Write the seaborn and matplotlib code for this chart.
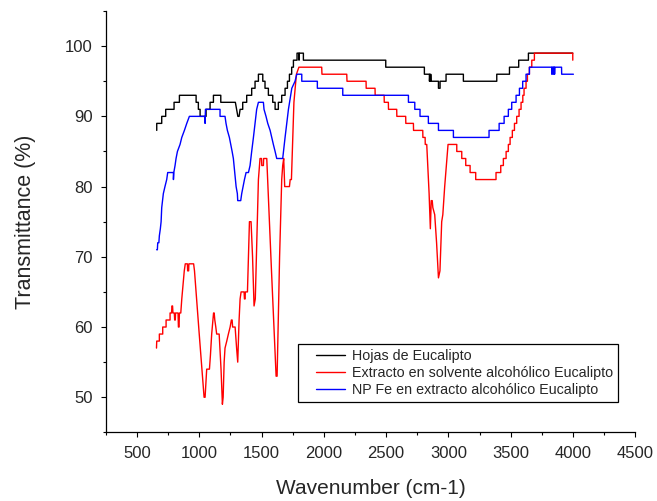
import pandas as pd
import numpy as np
import matplotlib
matplotlib.use("Agg")
import matplotlib.pyplot as plt
from matplotlib.ticker import MultipleLocator
from matplotlib.legend_handler import HandlerLine2D
import seaborn as sns

###############
# series data #
###############

# Hojas de Eucalipto (black)
hojas_wn = [659, 659, 699, 699, 731, 731, 798, 798, 841, 841, 975, 975, 993, 993,
            1007, 1007, 1055, 1055, 1087, 1087, 1114, 1114, 1173, 1173, 1290, 1300,
            1310, 1320, 1328, 1349, 1349, 1381, 1381, 1421, 1421, 1448, 1448, 1475,
            1475, 1510, 1510, 1528, 1528, 1555, 1555, 1590, 1590, 1609, 1609, 1635,
            1635, 1662, 1662, 1689, 1689, 1708, 1708, 1724, 1724, 1742, 1742, 1756,
            1756, 1785, 1785, 1800, 1801, 1803, 1836, 1836, 2497, 2497, 2807, 2807,
            2847, 2848, 2851, 2855, 2858, 2862, 2920, 2920, 2933, 2933, 2981, 2981,
            3120, 3120, 3388, 3388, 3490, 3490, 3564, 3564, 3642, 3642, 3998]
hojas_t = [88, 89, 89, 90, 90, 91, 91, 92, 92, 93, 93, 92, 92, 91,
           91, 90, 90, 91, 91, 92, 92, 93, 93, 92, 92, 91,
           90, 90, 91, 91, 92, 92, 93, 93, 94, 94, 95, 95,
           96, 96, 95, 95, 94, 94, 93, 93, 92, 92, 91, 91,
           92, 92, 93, 93, 94, 94, 95, 95, 96, 96, 97, 97,
           98, 98, 99, 99, 98, 99, 99, 98, 98, 97, 97, 96,
           96, 95, 96, 95, 96, 95, 95, 94, 94, 95, 95, 96,
           96, 95, 95, 96, 96, 97, 97, 98, 98, 99, 99]

# Extracto en solvente alcoholico (red)
extracto_wn = [657, 659, 680, 680, 707, 707, 734, 734, 766, 766, 778, 781, 786, 789,
               800, 803, 808, 810, 830, 833, 838, 841, 852, 860, 870, 880, 888, 905,
               907, 915, 917, 955, 962, 1000, 1039, 1047, 1060, 1082, 1090, 1100,
               1115, 1120, 1125, 1133, 1140, 1160, 1175, 1186, 1192, 1200, 1207, 1221,
               1234, 1248, 1258, 1264, 1268, 1288, 1300, 1309, 1320, 1328, 1336, 1360,
               1363, 1368, 1370, 1387, 1398, 1403, 1416, 1428, 1440, 1450, 1462, 1475,
               1488, 1500, 1502, 1515, 1517, 1542, 1580, 1617, 1625, 1645, 1662, 1670,
               1678, 1680, 1686, 1724, 1730, 1740, 1760, 1780, 1800, 1983, 1985, 2184,
               2186, 2339, 2340, 2411, 2412, 2484, 2485, 2518, 2519, 2585, 2586, 2657,
               2658, 2719, 2720, 2794, 2795, 2813, 2814, 2826, 2845, 2855, 2862, 2870,
               2875, 2890, 2905, 2920, 2932, 2946, 2955, 2970, 2997, 3067, 3067, 3107,
               3107, 3139, 3139, 3174, 3174, 3219, 3219, 3382, 3382, 3420, 3420, 3441,
               3441, 3463, 3463, 3481, 3481, 3495, 3495, 3513, 3513, 3530, 3530, 3548,
               3548, 3567, 3567, 3583, 3583, 3597, 3597, 3607, 3607, 3623, 3623, 3634,
               3634, 3650, 3650, 3669, 3669, 3690, 3690, 3998, 3998]
extracto_t = [57, 58, 58, 59, 59, 60, 60, 61, 61, 62, 62, 63, 63, 62,
              62, 61, 61, 62, 62, 60, 60, 62, 62, 64, 66, 68, 69, 69,
              68, 68, 69, 69, 68, 59, 50, 50, 54, 54, 56, 59,
              62, 62, 61, 60, 59, 59, 54, 49, 50, 55, 57, 58,
              59, 60, 61, 61, 60, 60, 57, 55, 61, 64, 65, 65,
              64, 64, 65, 65, 72, 75, 75, 70, 63, 64, 72, 81,
              84, 84, 83, 83, 84, 84, 68, 53, 53, 70, 81, 83,
              84, 83, 80, 80, 81, 81, 92, 96, 97, 97, 96, 96,
              95, 95, 94, 94, 93, 93, 92, 92, 91, 91, 90, 90,
              89, 89, 88, 88, 87, 87, 86, 86, 79, 74, 78, 78,
              77, 76, 72, 67, 68, 75, 76, 80, 86, 86, 85, 85,
              84, 84, 83, 83, 82, 82, 81, 81, 82, 82, 83, 83,
              84, 84, 85, 85, 86, 86, 87, 87, 88, 88, 89, 89,
              90, 90, 91, 91, 92, 92, 93, 93, 94, 94, 95, 95,
              96, 96, 97, 97, 98, 98, 99, 99, 98]

# NP Fe en extracto alcoholico (blue)
npfe_wn = [659, 664, 667, 676, 680, 688, 694, 699, 712, 725, 739, 747, 793, 793,
           796, 806, 814, 825, 846, 860, 881, 900, 921, 1044, 1047, 1050, 1167, 1167,
           1207, 1215, 1226, 1242, 1253, 1264, 1274, 1285, 1296, 1306, 1309, 1333,
           1341, 1352, 1363, 1376, 1395, 1408, 1421, 1435, 1448, 1461, 1475, 1515,
           1520, 1536, 1550, 1569, 1582, 1595, 1609, 1622, 1670, 1689, 1716, 1743,
           1769, 1783, 1823, 1823, 1948, 1948, 2152, 2152, 2679, 2679, 2730, 2730,
           2772, 2772, 2839, 2839, 2920, 2920, 3040, 3040, 3326, 3326, 3407, 3407,
           3447, 3447, 3481, 3481, 3508, 3508, 3543, 3543, 3570, 3570, 3596, 3596,
           3623, 3623, 3650, 3650, 3829, 3830, 3832, 3840, 3841, 3843, 3851, 3852,
           3854, 3908, 3909, 4003]
npfe_t = [71, 71, 72, 72, 73, 74, 75, 77, 79, 80, 81, 82, 82, 81,
          82, 83, 84, 85, 86, 87, 88, 89, 90, 90, 89, 91, 91, 90,
          90, 89, 88, 87, 86, 85, 84, 82, 80, 79, 78, 78,
          79, 80, 81, 82, 82, 83, 85, 87, 89, 91, 92, 92,
          91, 90, 89, 88, 87, 86, 85, 84, 84, 87, 91, 94,
          95, 96, 96, 95, 95, 94, 94, 93, 93, 92, 92, 91,
          91, 90, 90, 89, 89, 88, 88, 87, 87, 88, 88, 89,
          89, 90, 90, 91, 91, 92, 92, 93, 93, 94, 94, 95,
          95, 96, 96, 97, 97, 96, 97, 97, 96, 97, 97, 96,
          97, 97, 96, 96]

labels = ["Hojas de Eucalipto",
          "Extracto en solvente alcohólico Eucalipto",
          "NP Fe en extracto alcohólico Eucalipto"]
colors = ["#000000", "#ff0000", "#0000ff"]

df = pd.concat([
    pd.DataFrame({"wn": hojas_wn, "t": hojas_t, "serie": labels[0]}),
    pd.DataFrame({"wn": extracto_wn, "t": extracto_t, "serie": labels[1]}),
    pd.DataFrame({"wn": npfe_wn, "t": npfe_t, "serie": labels[2]}),
], ignore_index=True)


# legend line that starts a bit in from the frame, like the original
class IndentedLine(HandlerLine2D):
    def get_xdata(self, legend, xdescent, ydescent, width, height, fontsize):
        xdata, xm = super().get_xdata(legend, xdescent, ydescent, width, height, fontsize)
        xdata = [xdata[0] + 0.9 * fontsize, xdata[-1]]
        return xdata, xm


########
# plot #
########

sns.set_style("ticks")
plt.rcParams["font.family"] = ["Liberation Sans", "DejaVu Sans"]

fig = plt.figure(figsize=(6.57, 5.01), dpi=100)
ax = fig.add_axes([0.161, 0.137, 0.806, 0.841])

sns.lineplot(data=df, x="wn", y="t", hue="serie", palette=dict(zip(labels, colors)),
             sort=False, estimator=None, linewidth=1.0, ax=ax)

ax.set_xlim(250, 4500)
ax.set_ylim(45, 105)
ax.xaxis.set_major_locator(MultipleLocator(500))
ax.xaxis.set_minor_locator(MultipleLocator(250))
ax.yaxis.set_major_locator(MultipleLocator(10))
ax.yaxis.set_minor_locator(MultipleLocator(5))
ax.tick_params(which="major", length=3.5, width=0.8, labelsize=12, pad=6, color="black")
ax.tick_params(which="minor", length=2.5, width=0.8, color="black")
ax.set_xlabel("Wavenumber (cm-1)", fontsize=15, labelpad=13)
ax.set_ylabel("Transmittance (%)", fontsize=15.5, labelpad=21)
sns.despine(ax=ax)
for s in ["left", "bottom"]:
    ax.spines[s].set_color("black")
    ax.spines[s].set_linewidth(0.9)

handles, labs = ax.get_legend_handles_labels()
leg = ax.legend(handles, labs, loc="lower left", bbox_to_anchor=(0.363, 0.072),
                fontsize=10.3, frameon=True, fancybox=False, framealpha=1,
                edgecolor="black", handlelength=2.95, handletextpad=0.5,
                labelspacing=0.2, borderpad=0.35, borderaxespad=0,
                handler_map={h: IndentedLine() for h in handles})
leg.get_frame().set_linewidth(0.9)

fig.savefig("out.png", dpi=100)
